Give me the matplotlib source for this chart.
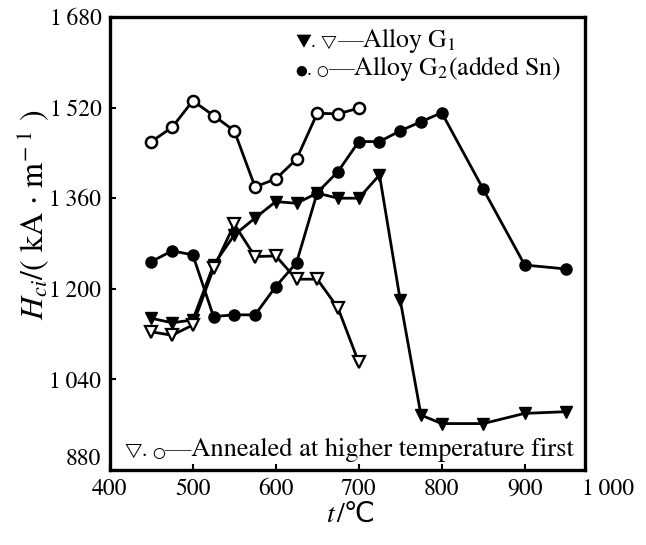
import matplotlib
matplotlib.use("Agg")
import matplotlib.pyplot as plt
from matplotlib.offsetbox import TextArea, HPacker, AnchoredOffsetbox

plt.rcParams['font.family'] = ['STIXGeneral', 'DejaVu Sans']
plt.rcParams['mathtext.fontset'] = 'stix'

# G1 alloy, filled triangles
t_g1 = [450, 475, 500, 525, 550, 575, 600, 625, 650, 675, 700, 725, 750, 775, 800, 850, 900, 950]
h_g1 = [1148, 1140, 1145, 1242, 1295, 1325, 1354, 1351, 1369, 1360, 1360, 1401, 1180, 977, 962, 962, 980, 983]

# G1 annealed at higher temperature first, open triangles
t_g1a = [450, 475, 500, 525, 550, 575, 600, 625, 650, 675, 700]
h_g1a = [1124, 1118, 1136, 1236, 1314, 1257, 1258, 1217, 1217, 1166, 1070]

# G2 alloy (added Sn), filled circles
t_g2 = [450, 475, 500, 525, 550, 575, 600, 625, 650, 675, 700, 725, 750, 775, 800, 850, 900, 950]
h_g2 = [1248, 1267, 1260, 1151, 1154, 1154, 1204, 1246, 1370, 1407, 1460, 1460, 1479, 1495, 1511, 1376, 1242, 1235]

# G2 annealed first, open circles
t_g2a = [450, 475, 500, 525, 550, 575, 600, 625, 650, 675, 700]
h_g2a = [1460, 1485, 1532, 1506, 1479, 1380, 1394, 1429, 1510, 1509, 1519]

xticks = [400, 500, 600, 700, 800, 900]
xticklabels = ['400', '500', '600', '700', '800', '900']
yticks = [880, 1040, 1200, 1360, 1520, 1680]
yticklabels = ['880', '1\u2009040', '1\u2009200', '1\u2009360', '1\u2009520', '1\u2009680']

fig = plt.figure(figsize=(6.46, 5.45), dpi=100)
ax = fig.add_axes([0.170, 0.1376, 0.736, 0.8312])

lw = 2.0
ax.plot(t_g1, h_g1, color='black', lw=lw, marker='v', ms=9, mfc='black', mec='black')
ax.plot(t_g1a, h_g1a, color='black', lw=lw, marker='v', ms=9, mfc='white', mec='black', mew=1.6)
ax.plot(t_g2, h_g2, color='black', lw=lw, marker='o', ms=8, mfc='black', mec='black')
ax.plot(t_g2a, h_g2a, color='black', lw=lw, marker='o', ms=8, mfc='white', mec='black', mew=1.8)

ax.set_xlim(400, 973)
ax.set_ylim(880, 1680)
ax.set_xticks(xticks)
ax.set_xticklabels(xticklabels)
ax.set_yticks(yticks)
ax.set_yticklabels(yticklabels)
ax.tick_params(direction='in', length=4, width=1.5, labelsize=17, pad=6)
ax.get_yticklabels()[0].set_va('bottom')
for s in ax.spines.values():
    s.set_linewidth(2.4)

# 1000 label lies beyond the frame
ax.text(1000, -0.018, '1\u2009000', transform=ax.get_xaxis_transform(),
        ha='center', va='top', fontsize=17, clip_on=False)


def text_line(parts, x, y):
    boxes = [TextArea(s, textprops=dict(fontsize=fs)) for s, fs in parts]
    pack = HPacker(children=boxes, align='baseline', pad=0, sep=0)
    box = AnchoredOffsetbox(loc='center left', child=pack, pad=0, borderpad=0,
                            frameon=False, bbox_to_anchor=(x, y),
                            bbox_transform=ax.transAxes)
    ax.add_artist(box)


text_line([('\u25bc', 10), ('. ', 14), ('\u25bd', 10), ('\u2014Alloy G$_1$', 18.5)], 0.39, 0.949)
text_line([('\u25cf', 10), ('. ', 14), ('\u25cb', 10), ('\u2014Alloy G$_2$(added Sn)', 18.5)], 0.39, 0.887)
text_line([('\u25bd', 11), ('. ', 15), ('\u25cb', 11), ('\u2014Annealed at higher temperature first', 19)],
          0.03, 0.044)

# x label: italic t, then degree Celsius sign
xl = HPacker(children=[TextArea('t', textprops=dict(fontsize=20, style='italic')),
                       TextArea('/\u2103', textprops=dict(fontsize=20))],
             align='baseline', pad=0, sep=1)
fig.add_artist(AnchoredOffsetbox(loc='center', child=xl, pad=0, borderpad=0, frameon=False,
                                 bbox_to_anchor=(0.543, 0.055),
                                 bbox_transform=fig.transFigure))

fig.text(0.05, 0.606, '$H_{ci}$/( kA $\\cdot$ m$^{-\\,\\,1}$ )', fontsize=23,
         ha='center', va='center', rotation=90)

fig.savefig('out.png', dpi=100)
